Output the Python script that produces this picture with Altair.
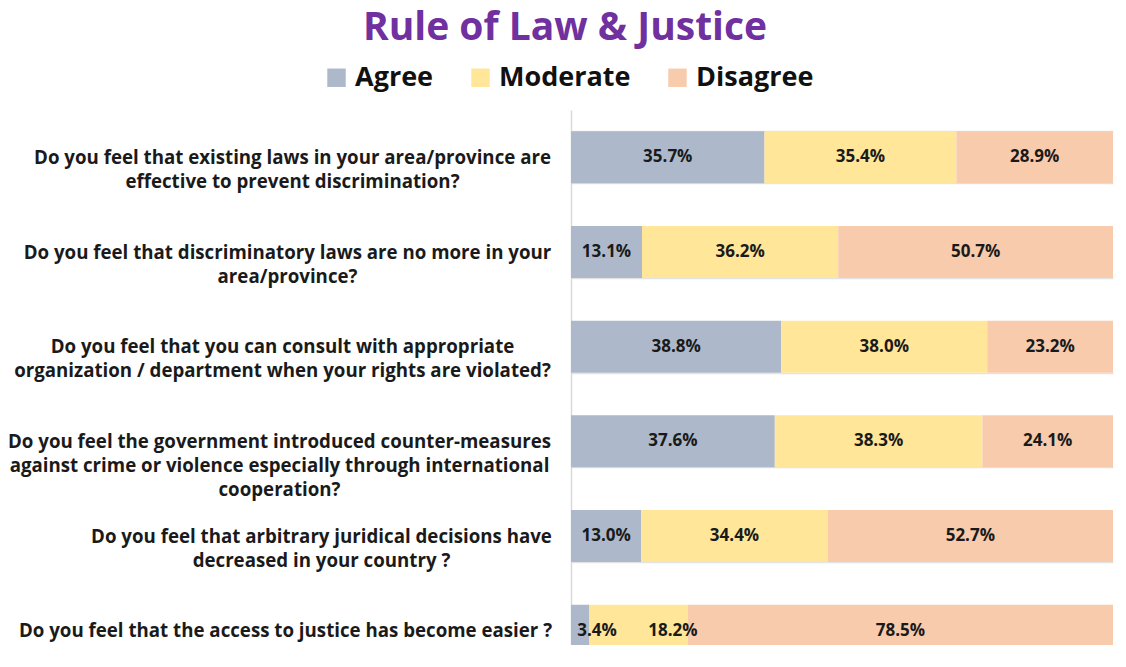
import altair as alt
import pandas as pd

questions = [
    "Do you feel that existing laws in your area/province are|effective to prevent discrimination?",
    "Do you feel that discriminatory laws are no more in your|area/province?",
    "Do you feel that you can consult with appropriate|organization / department when your rights are violated?",
    "Do you feel the government introduced counter-measures|against crime or violence especially through international|cooperation?",
    "Do you feel that arbitrary juridical decisions have|decreased in your country ?",
    "Do you feel that the access to justice has become easier ?",
]
categories = ["Agree", "Moderate", "Disagree"]
agree = [35.7, 13.1, 38.8, 37.6, 13.0, 3.4]
moderate = [35.4, 36.2, 38.0, 38.3, 34.4, 18.2]
disagree = [28.9, 50.7, 23.2, 24.1, 52.7, 78.5]
colors = ["#ADB9CA", "#FFE699", "#F8CBAD"]

# label layout: centre of each segment, nudged right so that data labels of
# very narrow segments do not collide (as the source chart does)
MIN_FIRST = 0.048
MIN_GAP = 0.14

rows = []
for i, q in enumerate(questions):
    vals_row = [agree[i], moderate[i], disagree[i]]
    total = sum(vals_row)
    start = 0.0
    prev = None
    for j, cat in enumerate(categories):
        v = vals_row[j]
        mid = (start + v / 2) / total
        if prev is None:
            lx = max(mid, MIN_FIRST)
        else:
            lx = max(mid, prev + MIN_GAP)
        prev = lx
        start += v
        rows.append({"q": q, "cat": cat, "order": j, "value": v, "lx": lx,
                     "label": f"{v:.1f}%"})
df = pd.DataFrame(rows)

FONT = "Open Sans"

base = alt.Chart(df)

pad_conditions = [
    {"test": "indexof(datum.label, 'existing') >= 0", "value": 279},
    {"test": "indexof(datum.label, 'discriminatory') >= 0", "value": 284},
    {"test": "indexof(datum.label, 'consult') >= 0", "value": 289},
    {"test": "indexof(datum.label, 'government') >= 0", "value": 292},
    {"test": "indexof(datum.label, 'arbitrary') >= 0", "value": 250},
]

yenc = alt.Y(
    "q:N", sort=questions, title=None,
    scale=alt.Scale(paddingInner=0.45, paddingOuter=0.225),
    axis=alt.Axis(
        labelExpr="split(datum.label, '|')",
        labelAlign="center",
        labelPadding={"condition": pad_conditions, "value": 286},
        labelFont=FONT, labelFontSize=18.7, labelFontWeight="bold", labelColor="#1a1a1a",
        labelLineHeight=24, labelLimit=700,
        ticks=False, tickBand="extent",
        grid=True, gridColor="#e3e3e3", gridWidth=1.5,
        domain=True, domainColor="#d9d9d9", domainWidth=1.5,
    ),
)

bars = base.mark_bar().encode(
    y=yenc,
    x=alt.X("value:Q", stack="normalize", axis=None,
            scale=alt.Scale(domain=[0, 1], nice=False)),
    order=alt.Order("order:Q"),
    color=alt.Color(
        "cat:N", sort=categories,
        scale=alt.Scale(domain=categories, range=colors),
        legend=alt.Legend(
            title=None, orient="none", direction="horizontal",
            legendX=-248, legendY=-46,
            symbolType="square", symbolSize=340, symbolStrokeWidth=0,
            labelFont=FONT, labelFontSize=27, labelFontWeight="bold", labelColor="#111111",
            labelOffset=5, columnPadding=33,
        ),
    ),
)

texts = base.mark_text(font=FONT, fontSize=17, fontWeight="bold", color="#1a1a1a").encode(
    y=alt.Y("q:N", sort=questions),
    x=alt.X("lx:Q", scale=alt.Scale(domain=[0, 1], nice=False)),
    text="label:N",
)

chart = alt.layer(bars, texts).properties(
    width=542, height=568,
    title=alt.TitleParams(
        "Rule of Law & Justice", font=FONT, fontSize=39, fontWeight="bold",
        color="#7030A0", anchor="middle", dx=-277, offset=16,
    ),
    autosize=alt.AutoSizeParams(type="none"),
    padding={"left": 563, "top": 102, "right": 5, "bottom": -33},
).configure_view(stroke=None)

chart.save("out.html", embed_options={"renderer": "svg", "actions": False})
